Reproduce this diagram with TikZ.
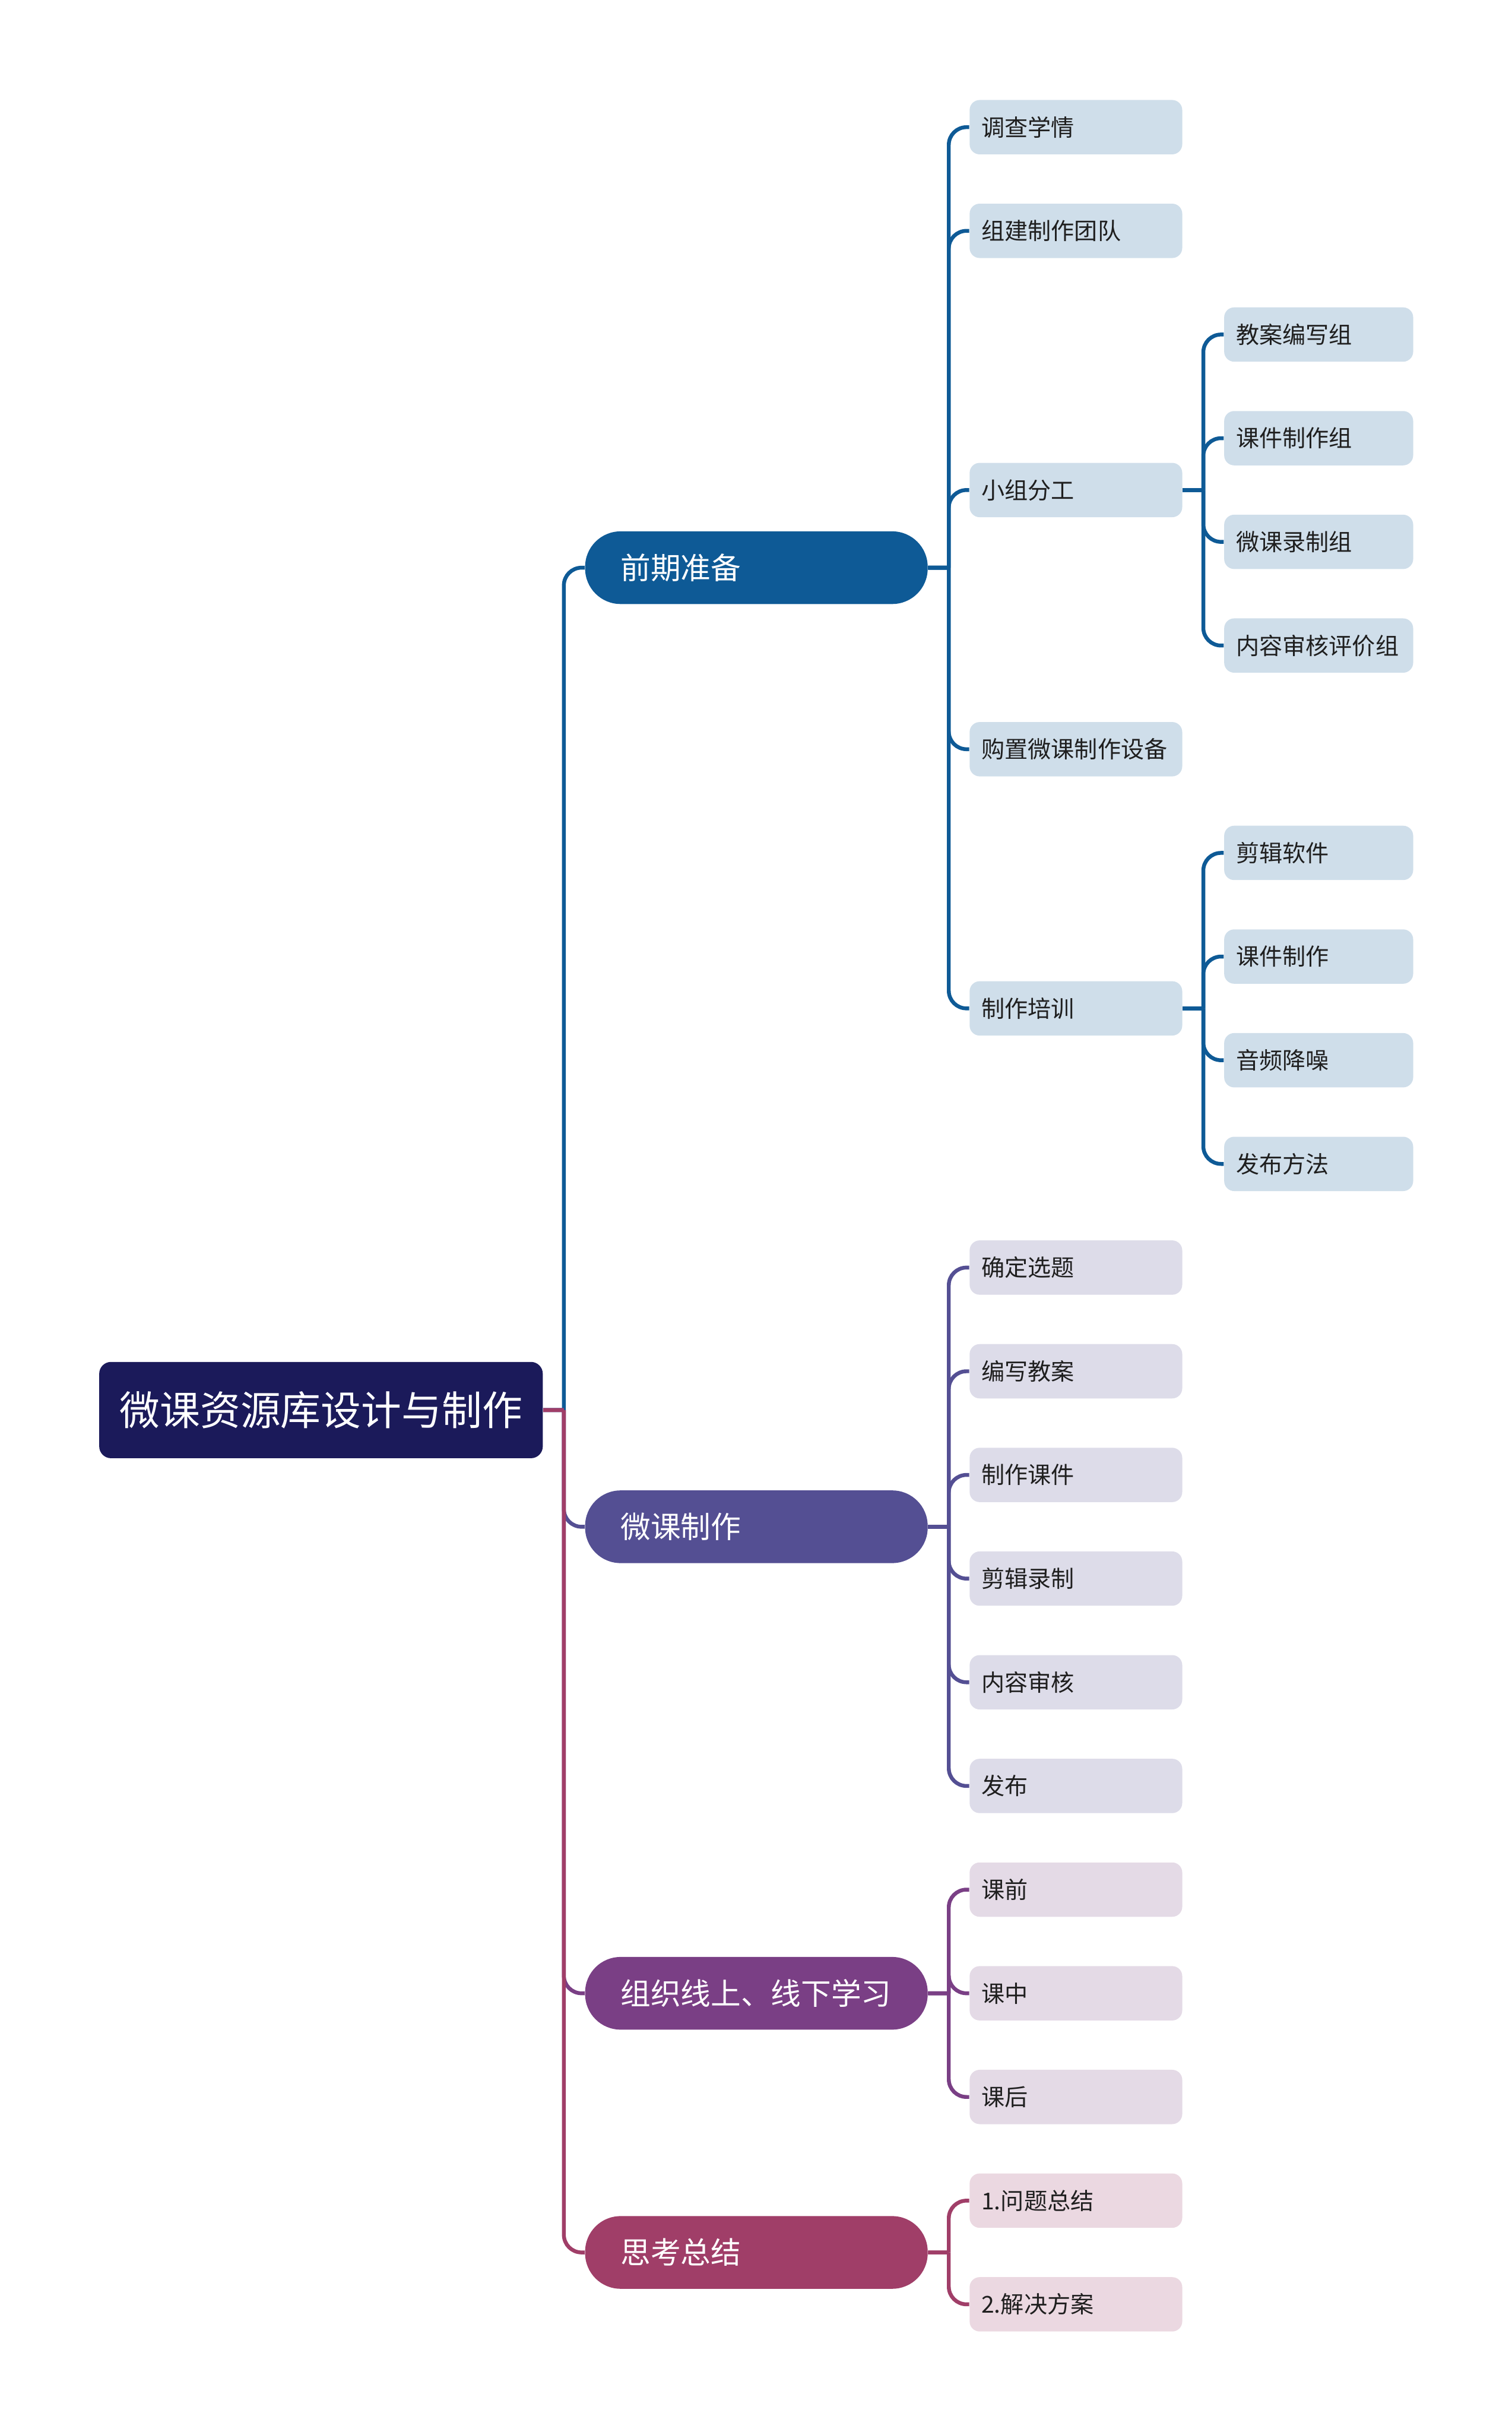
\documentclass[tikz,border=0pt]{standalone}
\usepackage{fontspec}
\setmainfont{Noto Sans CJK SC}
\usepackage{tikz}
\usetikzlibrary{positioning}
\definecolor{rootbg}{HTML}{1B1A5A}
\definecolor{prep}{HTML}{0E5A96}
\definecolor{make}{HTML}{544F93}
\definecolor{learn}{HTML}{7A3F85}
\definecolor{review}{HTML}{A03E68}
\definecolor{prepleaf}{HTML}{CFDEEA}
\definecolor{makeleaf}{HTML}{DDDCE9}
\definecolor{learnleaf}{HTML}{E4DAE6}
\definecolor{reviewleaf}{HTML}{EBD8E1}

\begin{document}
\begin{tikzpicture}[
  rootbox/.style={fill=rootbg,text=white,rounded corners=0.2cm,
              minimum width=7.51cm,minimum height=1.63cm,
              font=\fontsize{19.4}{22}\selectfont},
  topic/.style={anchor=west,text=white,rounded corners=0.6cm,
              minimum height=1.23cm,text width=4.6cm,inner xsep=0.6cm,
              align=left,font=\fontsize{14.5}{17}\selectfont},
  leaf/.style={anchor=west,text=black!88,rounded corners=0.17cm,
              minimum height=0.92cm,text width=3.2cm,inner xsep=0.2cm,
              align=left,font=\fontsize{11.2}{13}\selectfont},
  subleaf/.style={leaf,text width=2.8cm},
  link/.style={line width=0.065cm,
              to path={-- ++(0.35,0) ++(0,0) [rounded corners=0.3cm] |- (\tikztotarget)}}]
\useasboundingbox (0,0) rectangle (25.6,-41.17);
% root and main branches
\node[rootbox] (root) at (5.435,-23.87) {微课资源库设计与制作};
\node[topic,fill=prep] (prepare) at (9.90,-9.61) {前期准备};
\node[topic,fill=make] (produce) at (9.90,-25.8455) {微课制作};
\node[topic,fill=learn] (learning) at (9.90,-33.743) {组织线上、线下学习};
\node[topic,fill=review] (reflect) at (9.90,-38.13) {思考总结};
% 前期准备
\node[leaf,fill=prepleaf] (survey) at (16.41,-2.153) {调查学情};
\node[leaf,fill=prepleaf] (team) at (16.41,-3.908) {组建制作团队};
\node[leaf,fill=prepleaf] (division) at (16.41,-8.2955) {小组分工};
\node[leaf,fill=prepleaf] (buy) at (16.41,-12.683) {购置微课制作设备};
\node[leaf,fill=prepleaf] (training) at (16.41,-17.0705) {制作培训};
\node[subleaf,fill=prepleaf] (plangrp) at (20.72,-5.663) {教案编写组};
\node[subleaf,fill=prepleaf] (waregrp) at (20.72,-7.418) {课件制作组};
\node[subleaf,fill=prepleaf] (recgrp) at (20.72,-9.173) {微课录制组};
\node[subleaf,fill=prepleaf] (auditgrp) at (20.72,-10.928) {内容审核评价组};
\node[subleaf,fill=prepleaf] (editsw) at (20.72,-14.438) {剪辑软件};
\node[subleaf,fill=prepleaf] (waremk) at (20.72,-16.193) {课件制作};
\node[subleaf,fill=prepleaf] (denoise) at (20.72,-17.948) {音频降噪};
\node[subleaf,fill=prepleaf] (pubway) at (20.72,-19.703) {发布方法};
% 微课制作
\node[leaf,fill=makeleaf] (topicsel) at (16.41,-21.458) {确定选题};
\node[leaf,fill=makeleaf] (lessonplan) at (16.41,-23.213) {编写教案};
\node[leaf,fill=makeleaf] (mkware) at (16.41,-24.968) {制作课件};
\node[leaf,fill=makeleaf] (editrec) at (16.41,-26.723) {剪辑录制};
\node[leaf,fill=makeleaf] (audit) at (16.41,-28.478) {内容审核};
\node[leaf,fill=makeleaf] (release) at (16.41,-30.233) {发布};
% 组织线上、线下学习
\node[leaf,fill=learnleaf] (before) at (16.41,-31.988) {课前};
\node[leaf,fill=learnleaf] (during) at (16.41,-33.743) {课中};
\node[leaf,fill=learnleaf] (after) at (16.41,-35.498) {课后};
% 思考总结
\node[leaf,fill=reviewleaf] (problem) at (16.41,-37.253) {1.问题总结};
\node[leaf,fill=reviewleaf] (solution) at (16.41,-39.008) {2.解决方案};
% connectors
\draw[link,prep] (root.east) to (prepare.west);
\draw[link,make] (root.east) to (produce.west);
\draw[link,learn] (root.east) to (learning.west);
\draw[link,review] (root.east) to (reflect.west);
\foreach \kid in {survey,team,division,buy,training}
  \draw[link,prep] (prepare.east) to (\kid.west);
\foreach \kid in {plangrp,waregrp,recgrp,auditgrp}
  \draw[link,prep] (division.east) to (\kid.west);
\foreach \kid in {editsw,waremk,denoise,pubway}
  \draw[link,prep] (training.east) to (\kid.west);
\foreach \kid in {topicsel,lessonplan,mkware,editrec,audit,release}
  \draw[link,make] (produce.east) to (\kid.west);
\foreach \kid in {before,during,after}
  \draw[link,learn] (learning.east) to (\kid.west);
\foreach \kid in {problem,solution}
  \draw[link,review] (reflect.east) to (\kid.west);
\end{tikzpicture}
\end{document}
